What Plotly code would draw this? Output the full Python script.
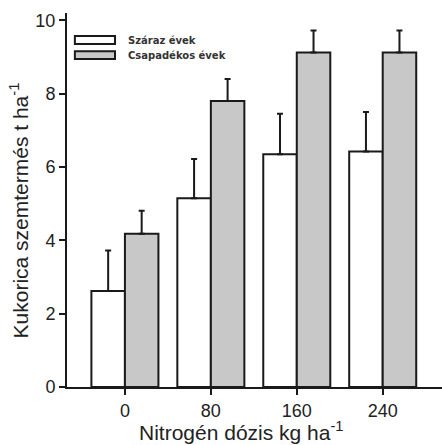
import plotly.graph_objects as go

categories = ["0", "80", "160", "240"]
dry_values = [2.62, 5.15, 6.35, 6.42]
dry_err = [1.10, 1.07, 1.10, 1.08]
wet_values = [4.18, 7.80, 9.12, 9.12]
wet_err = [0.63, 0.60, 0.60, 0.60]
legend_names = ["Száraz évek", "Csapadékos évek"]
x_title = "Nitrogén dózis kg ha<sup>-1</sup>"
y_title = "Kukorica szemtermés t ha<sup>-1</sup>"

font = "Liberation Sans, Arial, sans-serif"
ink = "#1a1a1a"

fig = go.Figure()
fig.add_trace(go.Bar(
    x=categories, y=dry_values, name=legend_names[0],
    marker=dict(color="white", line=dict(color=ink, width=2)),
    error_y=dict(type="data", symmetric=False, array=dry_err, arrayminus=[0] * 4,
                 color=ink, thickness=2, width=3),
    showlegend=False,
))
fig.add_trace(go.Bar(
    x=categories, y=wet_values, name=legend_names[1],
    marker=dict(color="#c8c8c8", line=dict(color=ink, width=2)),
    error_y=dict(type="data", symmetric=False, array=wet_err, arrayminus=[0] * 4,
                 color=ink, thickness=2, width=3),
    showlegend=False,
))

# custom legend
legend_fills = ["white", "#c8c8c8"]
legend_y = [(0.917, 0.9385), (0.877, 0.898)]
for fill, (y0, y1), name in zip(legend_fills, legend_y, legend_names):
    fig.add_shape(type="rect", xref="paper", yref="paper", x0=0.021, x1=0.128,
                  y0=y0, y1=y1, fillcolor=fill, line=dict(color=ink, width=2))
    fig.add_annotation(xref="paper", yref="paper", x=0.158, y=(y0 + y1) / 2,
                       text=name, showarrow=False, xanchor="left", yanchor="middle",
                       font=dict(family="DejaVu Sans, sans-serif", size=10,
                                 color="#333", weight="bold"))

# axis titles
fig.add_annotation(xref="paper", yref="paper", x=0.464, y=-0.118, text=x_title,
                   showarrow=False, xanchor="center", yanchor="middle",
                   font=dict(family=font, size=21, color="#222"))
fig.add_annotation(xref="paper", yref="paper", x=-0.127, y=0.473, text=y_title,
                   showarrow=False, xanchor="center", yanchor="middle", textangle=-90,
                   font=dict(family=font, size=21, color="#222"))

fig.update_layout(
    width=442, height=445,
    margin=dict(l=67, r=0, t=13, b=58),
    paper_bgcolor="white", plot_bgcolor="white",
    barmode="group", bargap=0.22, bargroupgap=0,
    font=dict(family=font, size=18, color="#222"),
    xaxis=dict(
        type="category", range=[-0.674, 3.69],
        showline=True, linecolor=ink, linewidth=2,
        ticks="outside", ticklen=6, tickwidth=2, tickcolor=ink,
        showgrid=False, zeroline=False,
        tickfont=dict(size=18),
    ),
    yaxis=dict(
        range=[0, 10.2], tickvals=[0, 2, 4, 6, 8, 10],
        showline=True, linecolor=ink, linewidth=2,
        ticks="outside", ticklen=6, tickwidth=2, tickcolor=ink,
        showgrid=False, zeroline=False,
        tickfont=dict(size=18),
    ),
)

fig.write_html("out.html", config={"displayModeBar": False},
               post_script="document.body.style.margin='0px';")
